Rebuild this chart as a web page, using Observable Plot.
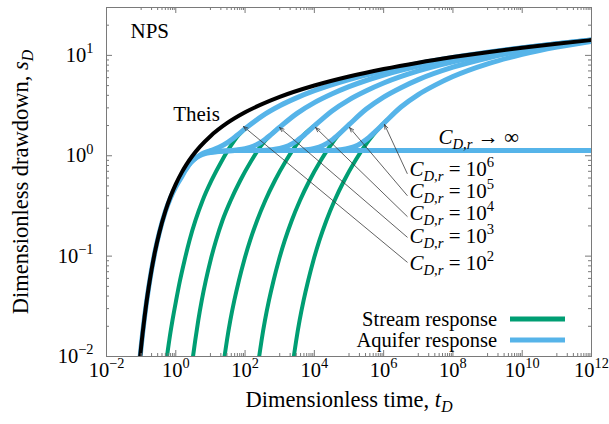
<!DOCTYPE html>
<html>
<head>
<meta charset="utf-8">
<script src="https://cdn.jsdelivr.net/npm/d3@7"></script>
<script src="https://cdn.jsdelivr.net/npm/@observablehq/plot@0.6"></script>
<style>
  html, body { margin: 0; padding: 0; background: #fff; }
</style>
</head>
<body>
<div id="chart"></div>
<script>
const FONT = "Liberation Serif";

// ---- Theis solution (no stream) ----
const theisT = [0.09, 0.1, 0.11, 0.125, 0.14, 0.1667, 0.2, 0.25, 0.333, 0.5, 0.7, 1, 1.5, 2, 3, 5, 10, 30, 100, 1e3, 1e4, 1e5, 1e6, 1e7, 1e8, 1e9, 1e10, 1e11, 1e12];
const theisS = [0.0087, 0.0125, 0.0169, 0.0245, 0.0332, 0.050, 0.0732, 0.110, 0.170, 0.280, 0.390, 0.522, 0.687, 0.812, 0.995, 1.234, 1.568, 2.109, 2.708, 3.859, 5.010, 6.161, 7.313, 8.464, 9.615, 10.77, 11.92, 13.07, 14.22];

// ---- aquifer response, inexhaustible stream (C_D,r -> infinity) ----
const aqInfT = [0.09, 0.1, 0.125, 0.1667, 0.25, 0.333, 0.5, 0.7, 1, 1.37, 2, 2.66, 4, 5.2, 7, 10, 20, 50, 100, 1e12];
const aqInfS = [0.0087, 0.0125, 0.0245, 0.050, 0.110, 0.170, 0.278, 0.380, 0.49, 0.59, 0.74, 0.85, 0.96, 1.01, 1.05, 1.08, 1.11, 1.125, 1.13, 1.13];

// ---- aquifer response for finite stream storage C_D,r ----
const aq2T = [2, 2.66, 3.162, 5.623, 10, 17.78, 31.62, 56.23, 100, 316.2, 1e3, 3162, 1e4, 1e5, 1e6, 1e7, 1e8, 1e9, 1e10, 1e11, 1e12];
const aq2S = [0.74, 0.85, 0.90, 1.045, 1.124, 1.215, 1.362, 1.581, 1.862, 2.501, 3.148, 3.795, 4.450, 5.752, 7.037, 8.304, 9.544, 10.74, 11.91, 13.07, 14.22];

const aq3T = [10, 20, 31.62, 56.23, 100, 177.8, 316.2, 562.3, 1e3, 3162, 1e4, 31623, 1e5, 1e6, 1e7, 1e8, 1e9, 1e10, 1e11, 1e12];
const aq3S = [1.08, 1.11, 1.12, 1.143, 1.178, 1.249, 1.393, 1.624, 1.926, 2.644, 3.382, 4.121, 4.879, 6.377, 7.833, 9.249, 10.60, 11.86, 13.05, 14.21];

const aq4T = [100, 316.2, 562.3, 1e3, 1778, 3162, 5623, 1e4, 31623, 1e5, 316228, 1e6, 1e7, 1e8, 1e9, 1e10, 1e11, 1e12];
const aq4S = [1.13, 1.13, 1.147, 1.181, 1.258, 1.411, 1.658, 1.982, 2.781, 3.611, 4.442, 5.305, 6.998, 8.627, 10.19, 11.66, 12.97, 14.19];

const aq5T = [1e3, 3162, 5623, 1e4, 17783, 31623, 56234, 1e5, 316228, 1e6, 3.162e6, 1e7, 1e8, 1e9, 1e10, 1e11, 1e12];
const aq5S = [1.13, 1.13, 1.148, 1.185, 1.267, 1.430, 1.694, 2.040, 2.920, 3.843, 4.766, 5.731, 7.620, 9.422, 11.14, 12.72, 14.09];

const aq6T = [1e4, 31623, 56234, 1e5, 177828, 316228, 562341, 1e6, 3.162e6, 1e7, 3.162e7, 1e8, 1e9, 1e10, 1e11, 1e12];
const aq6S = [1.13, 1.13, 1.149, 1.188, 1.275, 1.449, 1.730, 2.097, 3.058, 4.072, 5.087, 6.156, 8.242, 10.22, 12.08, 13.78];

// ---- stream response for the same storages ----
const st2T = [0.5395, 0.5585, 0.6471, 0.8017, 1.022, 1.325, 1.788, 2.486, 3.695, 5.947, 10.75, 21.61, 39.36, 63.68, 100];
const st2S = [0.009, 0.0100, 0.01446, 0.02288, 0.0362, 0.05726, 0.09061, 0.1433, 0.2267, 0.3587, 0.5673, 0.8978, 1.266, 1.593, 1.862];
const st3T = [3.00, 3.141, 3.639, 4.457, 5.617, 7.367, 10.06, 14.48, 22.26, 38.40, 72.66, 152.97, 291.5, 562.3, 1e3];
const st3S = [0.009, 0.0100, 0.01446, 0.02288, 0.0362, 0.05726, 0.09061, 0.1433, 0.2267, 0.3587, 0.5673, 0.8978, 1.266, 1.624, 1.926];
const st4T = [24.38, 25.53, 29.92, 37.50, 48.93, 66.42, 93.85, 139.85, 222.63, 383.95, 726.61, 1529.65, 2915.4, 4832.8, 1e4];
const st4S = [0.009, 0.0100, 0.01446, 0.02288, 0.0362, 0.05726, 0.09061, 0.1433, 0.2267, 0.3587, 0.5673, 0.8978, 1.266, 1.593, 1.982];
const st5T = [243.8, 255.3, 299.2, 375.0, 489.3, 664.2, 938.5, 1398.5, 2226.3, 3839.5, 7266.1, 15296.5, 29154, 48328, 1e5];
const st5S = [0.009, 0.0100, 0.01446, 0.02288, 0.0362, 0.05726, 0.09061, 0.1433, 0.2267, 0.3587, 0.5673, 0.8978, 1.266, 1.593, 2.040];
const st6T = [2438, 2553, 2992, 3750, 4893, 6642, 9385, 13985, 22263, 38395, 72661, 152965, 291540, 483278, 878860, 1225000];
const st6S = [0.009, 0.0100, 0.01446, 0.02288, 0.0362, 0.05726, 0.09061, 0.1433, 0.2267, 0.3587, 0.5673, 0.8978, 1.266, 1.593, 2.003, 2.246];

// ---- annotation arrows: C_D,r = 10^k labels pointing at each aquifer curve ----
const capExp = [2, 3, 4, 5, 6];
const tipT = [90, 986, 10790, 103400, 1059000];
const tipS = [1.957, 1.913, 1.913, 1.913, 2.05];
const tailT = [4.79e6, 4.79e6, 4.79e6, 4.79e6, 4.79e6];
const tailS = [0.0871, 0.1546, 0.2486, 0.402, 0.666];
const labelT = [5.57e6, 5.57e6, 5.57e6, 5.57e6, 5.57e6];
const labelS = [0.0846, 0.1571, 0.2663, 0.4409, 0.7304];
const infLabel = {t: 3.83e7, s: 1.521};
const theisLabel = {t: 3.96, s: 2.579};

// ---- axes ----
const xMajor = [1e-2, 1e0, 1e2, 1e4, 1e6, 1e8, 1e10, 1e12];
const xMajorExp = ["−2", "0", "2", "4", "6", "8", "10", "12"];
const yMajor = [1e-2, 1e-1, 1e0, 1e1];
const yMajorExp = ["−2", "−1", "0", "1"];
const minorMult = [2, 3, 4, 5, 6, 7, 8, 9];
const xMinorDecades = [1e-1, 1e1, 1e3, 1e5, 1e7, 1e9, 1e11];
const yMinorDecades = [1e-2, 1e-1, 1e0, 1e1];

const legendNames = ["Stream response", "Aquifer response"];
const GREEN = "#009e73";
const BLUE = "#56b4e9";
const FRAME = "#7a7a7a";

// tick tables built from the lists above
const xMinor = xMinorDecades.flatMap(d => [d, ...minorMult.map(m => d * m)]);
const yMinor = yMinorDecades.flatMap(d => minorMult.map(m => d * m)).filter(v => v < 30);

const W = 609, H = 424, ML = 106, MR = 18, MT = 7, MB = 68;
const FW = W - ML - MR, FH = H - MT - MB;
const MAJ = 6, MIN = 3;

const pts = (T, S) => T.map((t, i) => ({t, s: S[i]}));
const curve = (T, S, stroke, strokeWidth) =>
  Plot.line(pts(T, S), {x: "t", y: "s", stroke, strokeWidth, curve: "monotone-x", clip: true, strokeLinejoin: "round"});

const annot = capExp.map((k, i) => ({
  k, x1: tailT[i], y1: tailS[i], x2: tipT[i], y2: tipS[i], lt: labelT[i], ls: labelS[i]
}));

const plot = Plot.plot({
  width: W, height: H,
  marginLeft: ML, marginRight: MR, marginTop: MT, marginBottom: MB,
  style: {fontFamily: FONT, fontSize: "20px", background: "white", color: "black"},
  x: {type: "log", domain: [1e-2, 1e12], axis: null},
  y: {type: "log", domain: [1e-2, 30], axis: null},
  marks: [
    // stream response
    curve(st2T, st2S, GREEN, 4),
    curve(st3T, st3S, GREEN, 4),
    curve(st4T, st4S, GREEN, 4),
    curve(st5T, st5S, GREEN, 4),
    curve(st6T, st6S, GREEN, 4),
    // aquifer response
    curve(aqInfT, aqInfS, BLUE, 5),
    curve(aq2T, aq2S, BLUE, 5),
    curve(aq3T, aq3S, BLUE, 5),
    curve(aq4T, aq4S, BLUE, 5),
    curve(aq5T, aq5S, BLUE, 5),
    curve(aq6T, aq6S, BLUE, 5),
    // Theis
    curve(theisT, theisS, "black", 4),

    // arrows and labels
    Plot.arrow(annot, {x1: "x1", y1: "y1", x2: "x2", y2: "y2", stroke: "#3a3a3a", strokeWidth: 0.8, headLength: 9, headAngle: 40}),
    Plot.text(annot, {x: "lt", y: "ls", text: d => `$C_{D,r}$ = 10^{${d.k}}`, textAnchor: "start", fontSize: 21}),
    Plot.text([infLabel], {x: "t", y: "s", text: () => "$C_{D,r}$ → ∞", textAnchor: "start", fontSize: 21}),
    Plot.text([theisLabel], {x: "t", y: "s", text: () => "Theis", fontSize: 21}),
    Plot.text(["NPS"], {frameAnchor: "top-left", dx: 24, dy: 16, textAnchor: "start", fontSize: 21}),

    // tick marks on all four sides, pointing inwards
    Plot.tickX(xMajor, {x: d => d, stroke: FRAME, insetTop: FH - MAJ}),
    Plot.tickX(xMajor, {x: d => d, stroke: FRAME, insetBottom: FH - MAJ}),
    Plot.tickX(xMinor, {x: d => d, stroke: FRAME, insetTop: FH - MIN}),
    Plot.tickX(xMinor, {x: d => d, stroke: FRAME, insetBottom: FH - MIN}),
    Plot.tickY(yMajor, {y: d => d, stroke: FRAME, insetRight: FW - MAJ}),
    Plot.tickY(yMajor, {y: d => d, stroke: FRAME, insetLeft: FW - MAJ}),
    Plot.tickY(yMinor, {y: d => d, stroke: FRAME, insetRight: FW - MIN}),
    Plot.tickY(yMinor, {y: d => d, stroke: FRAME, insetLeft: FW - MIN}),
    Plot.frame({stroke: FRAME, strokeWidth: 1}),

    // tick labels
    Plot.text(xMajor, {x: d => d, text: (d, i) => `10^{${xMajorExp[i]}}`, frameAnchor: "bottom", dy: 20, fontSize: 20.5}),
    Plot.text(yMajor, {y: d => d, text: (d, i) => `10^{${yMajorExp[i]}}`, frameAnchor: "left", textAnchor: "end", dx: -13, fontSize: 20.5}),

    // axis titles
    Plot.text(["Dimensionless time, $t_{D}$"], {frameAnchor: "bottom", dy: 50, fontSize: 22.5}),
    Plot.text(["Dimensionless drawdown, $s_{D}$"], {frameAnchor: "left", textAnchor: "middle", dx: -86, rotate: -90, fontSize: 22.5})
  ]
});

document.getElementById("chart").append(plot);

// Turn the small markup ($..$ italic letters, ^{..} superscript, _{..} subscript) into tspans
function richText(el) {
  const src = el.textContent;
  if (!/[$^_]/.test(src)) return;
  const base = parseFloat(getComputedStyle(el).fontSize) || 20;
  const runs = [];
  let italic = false;
  (function parse(str, level) {
    for (let i = 0; i < str.length; i++) {
      const c = str[i];
      if (c === "$") { italic = !italic; continue; }
      if ((c === "^" || c === "_") && str[i + 1] === "{") {
        let depth = 1, j = i + 2;
        while (j < str.length && depth) {
          if (str[j] === "{") depth++;
          else if (str[j] === "}") depth--;
          j++;
        }
        parse(str.slice(i + 2, j - 1), level + (c === "^" ? 1 : -1));
        i = j - 1;
        continue;
      }
      runs.push({text: c, italic: italic && /[A-Za-z]/.test(c), level});
    }
  })(src, 0);
  const merged = [];
  for (const r of runs) {
    const last = merged[merged.length - 1];
    if (last && last.italic === r.italic && last.level === r.level) last.text += r.text;
    else merged.push({...r});
  }
  el.textContent = "";
  let shift = 0;
  for (const r of merged) {
    const target = r.level > 0 ? -0.42 * base : r.level < 0 ? 0.24 * base : 0;
    const ts = d3.select(el).append("tspan").text(r.text);
    if (target !== shift) ts.attr("dy", target - shift);
    if (r.level !== 0) ts.attr("font-size", 0.7 * base);
    if (r.italic) ts.attr("font-style", "italic");
    shift = target;
  }
}
d3.select(plot).selectAll("text").each(function () { richText(this); });

// key in the lower right corner of the frame
const key = d3.select(plot).append("g").attr("font-family", FONT).attr("font-size", 20.5);
legendNames.forEach((name, i) => {
  const y = 319 + i * 21;
  key.append("line")
    .attr("x1", 510).attr("x2", 565).attr("y1", y).attr("y2", y)
    .attr("stroke", i === 0 ? GREEN : BLUE).attr("stroke-width", 5);
  key.append("text")
    .attr("x", 497).attr("y", y).attr("dy", "0.32em")
    .attr("text-anchor", "end").text(name);
});
</script>
</body>
</html>
